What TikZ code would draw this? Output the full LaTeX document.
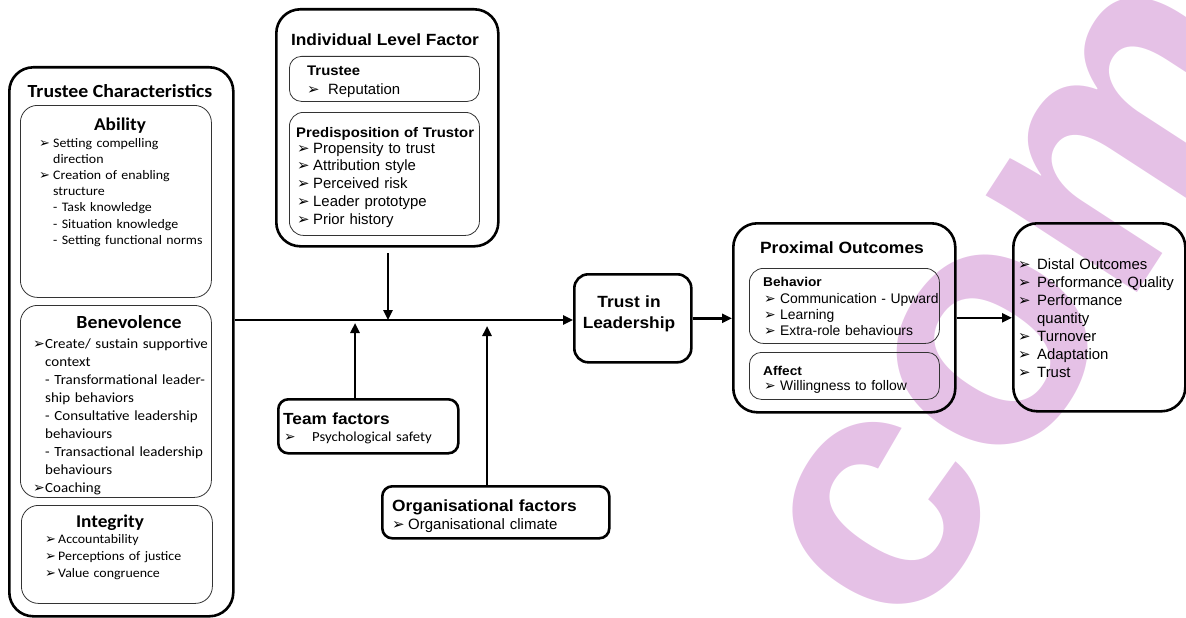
\documentclass[tikz,border=0pt]{standalone}
\usepackage{fontspec}
\setmainfont{Liberation Sans}
\newfontfamily\calib[FakeStretch=1.07]{Carlito}
\newfontfamily\wb[FakeStretch=1.07]{Liberation Sans}
\newfontfamily\dvs{DejaVu Sans}
\usetikzlibrary{arrows.meta}
\definecolor{wm}{RGB}{229,193,230}
\newcommand\ar{{\dvs\bfseries\scalebox{1.0}{\char"27A2}}}
\newcommand\fs[2]{\fontsize{#1}{#2}\selectfont}
\newcommand\itm[1]{\makebox[#1][l]{\ar}}
\begin{document}
\begin{tikzpicture}[x=1pt,y=-1pt,
 bigbox/.style={draw, line width=2.6pt, rounded corners=24pt, anchor=north west, inner sep=0},
 midbox/.style={draw, line width=2.6pt, rounded corners=10pt, anchor=north west, inner sep=0},
 subbox/.style={draw=black!80, line width=0.8pt, rounded corners=17pt, anchor=north west, inner sep=0},
 txt/.style={anchor=base west, inner sep=0, align=left, text width=#1},
 txt/.default=200pt,
 ttl/.style={anchor=base, inner sep=0},
 arr/.style={line width=2.4pt, -{Triangle[length=10pt,width=9pt]}}]
\useasboundingbox (0,0) rectangle (1186,618);
% watermark
\node[rotate=57, text=wm, font=\fs{340}{340}\bfseries, inner sep=0, anchor=base west] (wmk) at (908,645) {com};
% Trustee characteristics
\node[bigbox, minimum width=224pt, minimum height=549pt] (tc) at (8,66) {};
\node[ttl, font=\calib\bfseries\fs{18.5}{20}] (tct) at (120,97) {Trustee Characteristics};
\node[subbox, minimum width=191pt, minimum height=192pt] (ab) at (20,105) {};
\node[ttl, font=\calib\bfseries\fs{18}{20}] (abt) at (120,130) {Ability};
\node[txt, font=\calib\fs{13}{16.2}] (abi) at (39,147) {\itm{14pt}Setting compelling\\ \hspace*{14pt}direction\\ \itm{14pt}Creation of enabling\\ \hspace*{14pt}structure\\ \hspace*{14pt}- Task knowledge\\ \hspace*{14pt}- Situation knowledge\\ \hspace*{14pt}- Setting functional norms};
\node[subbox, minimum width=191pt, minimum height=192pt] (bn) at (20,305) {};
\node[ttl, font=\calib\bfseries\fs{18.5}{20}] (bnt) at (129,328) {Benevolence};
\node[txt, font=\calib\fs{14}{18}] (bni) at (33,348) {\itm{12pt}Create/ sustain supportive\\ \hspace*{12pt}context\\ \hspace*{12pt}- Transformational leader-\\ \hspace*{12pt}ship behaviors\\ \hspace*{12pt}- Consultative leadership\\ \hspace*{12pt}behaviours\\ \hspace*{12pt}- Transactional leadership\\ \hspace*{12pt}behaviours\\ \itm{12pt}Coaching};
\node[subbox, minimum width=191pt, minimum height=98pt] (ig) at (21,505) {};
\node[ttl, font=\calib\bfseries\fs{18}{20}] (igt) at (110,527) {Integrity};
\node[txt, font=\calib\fs{13}{17}] (igi) at (45,543) {\itm{13pt}Accountability\\ \itm{13pt}Perceptions of justice\\ \itm{13pt}Value congruence};
% Individual level factor
\node[bigbox, minimum width=222pt, minimum height=237pt] (ind) at (275,8) {};
\node[ttl, font=\wb\bfseries\fs{16.2}{18}] (indt) at (385,46) {Individual Level Factor};
\node[subbox, rounded corners=12pt, minimum width=190pt, minimum height=45pt] (tr) at (289,56) {};
\node[txt, font=\wb\bfseries\fs{13.9}{18}] (trt) at (307,76) {Trustee};
\node[txt, font=\fs{14.9}{18}] (tri) at (307,95) {\itm{21pt}Reputation};
\node[subbox, rounded corners=14pt, minimum width=190pt, minimum height=123pt] (pd) at (289,112) {};
\node[txt, font=\wb\bfseries\fs{13.9}{18}] (pdt) at (296,137) {Predisposition of Trustor};
\node[txt, font=\fs{14.9}{17.8}] (pdi) at (297,153) {\itm{16pt}Propensity to trust\\ \itm{16pt}Attribution style\\ \itm{16pt}Perceived risk\\ \itm{16pt}Leader prototype\\ \itm{16pt}Prior history};
% Team and organisational factors
\node[midbox, minimum width=180pt, minimum height=54pt] (team) at (277,398) {};
\node[txt, font=\wb\bfseries\fs{16.1}{18}] (teamt) at (283,424) {Team factors};
\node[txt, font=\calib\fs{13.8}{16}] (teami) at (284,441) {\itm{28pt}Psychological safety};
\node[midbox, minimum width=227pt, minimum height=52pt] (org) at (381,485) {};
\node[txt, font=\wb\bfseries\fs{16.2}{18}] (orgt) at (392,511) {Organisational factors};
\node[txt, font=\fs{15}{18}] (orgi) at (392,529) {\itm{16pt}Organisational climate};
% Trust in leadership
\node[midbox, rounded corners=14pt, minimum width=117pt, minimum height=88pt] (trust) at (573,273) {};
\node[ttl, align=center, text width=112pt, font=\wb\bfseries\fs{16.2}{21}] (trustt) at (629,307) {Trust in\\Leadership};
% Proximal outcomes
\node[bigbox, minimum width=222pt, minimum height=189pt] (prox) at (732,222) {};
\node[ttl, font=\wb\bfseries\fs{16.3}{20}] (proxt) at (842,253) {Proximal Outcomes};
\node[subbox, rounded corners=14pt, minimum width=190pt, minimum height=75pt] (beh) at (749,268) {};
\node[txt, font=\wb\bfseries\fs{12.8}{16.3}] (beht) at (763,286) {Behavior};
\node[txt, font=\fs{13.9}{16.2}] (behi) at (764,303) {\itm{16pt}Communication - Upward\\ \itm{16pt}Learning\\ \itm{16pt}Extra-role behaviours};
\node[subbox, rounded corners=12pt, minimum width=190pt, minimum height=47pt] (aff) at (749,352) {};
\node[txt, font=\wb\bfseries\fs{12.8}{16.3}] (afft) at (763,375) {Affect};
\node[txt, font=\fs{13.9}{16.2}] (affi) at (764,390) {\itm{16pt}Willingness to follow};
% Distal outcomes
\node[bigbox, minimum width=172pt, minimum height=188pt] (dist) at (1012,222) {};
\node[txt, font=\fs{14.9}{18}] (disti) at (1018,269) {\itm{19pt}Distal Outcomes\\ \itm{19pt}Performance Quality\\ \itm{19pt}Performance\\ \hspace*{19pt}quantity\\ \itm{19pt}Turnover\\ \itm{19pt}Adaptation\\ \itm{19pt}Trust};
% connectors
\coordinate (j) at (388,320);
\coordinate (ds) at (388,253);
\coordinate (tj) at (355,323);
\coordinate (oj) at (487,326);
\draw[arr] (tc.east |- j) -- (trust.west |- j);
\draw[arr] (ds) -- (j);
\draw[arr] (team.north -| tj) -- (tj);
\draw[arr] (org.north -| oj) -- (oj);
\draw[arr] (trust.east) -- (prox.west |- trust.east);
\draw[arr] (prox.east) -- (dist.west |- prox.east);
\end{tikzpicture}
\end{document}
